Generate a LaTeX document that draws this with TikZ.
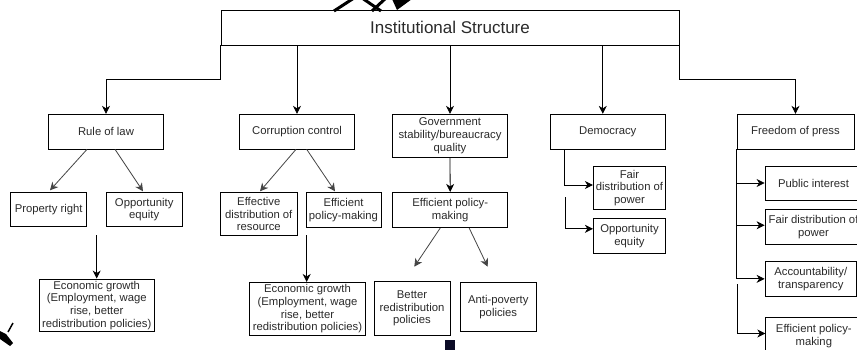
\documentclass[tikz,border=0pt]{standalone}
\usepackage{fontspec}
\setmainfont{Liberation Sans}
\usetikzlibrary{arrows.meta,calc}
\definecolor{txt}{HTML}{2A2A2A}
\definecolor{diag}{HTML}{454545}
\definecolor{navy}{HTML}{0B0B26}
\tikzset{
  box/.style={draw=black, line width=0.8pt, rectangle, inner sep=0pt, align=center,
    text=txt, font=\fontsize{11.3}{12.8}\selectfont},
  titlebox/.style={box, font=\fontsize{17}{20}\selectfont},
  arr/.style={draw=black, line width=0.8pt, -{Stealth[length=8pt,width=8pt,inset=2.5pt]}},
  darr/.style={draw=diag, line width=0.8pt, -{Stealth[length=8pt,width=8pt,inset=2.5pt]}},
  plain/.style={draw=black, line width=0.8pt}
}
\begin{document}
\begin{tikzpicture}[x=1pt,y=-1pt]
\useasboundingbox (0,0) rectangle (857,350);
\fill[white] (0,0) rectangle (857,350);

% title
\node[titlebox, minimum width=458pt, minimum height=35pt] (title) at (450,27.5) {Institutional Structure};

% level 1
\node[box, minimum width=114.6pt, minimum height=34.7pt] (rule) at (106,131.6) {Rule of law};
\node[box, minimum width=114.6pt, minimum height=34.7pt] (corr) at (297,131.6) {Corruption control};
\node[box, minimum width=115.4pt, minimum height=42.7pt] (gov) at (450,135.6) {Government\\stability/bureaucracy\\quality};
\node[box, minimum width=115pt, minimum height=34.7pt] (dem) at (607.8,131.6) {Democracy};
\node[box, minimum width=117pt, minimum height=34.7pt] (press) at (795.5,131.6) {Freedom of press};

% rule of law children
\node[box, minimum width=76pt, minimum height=34.4pt] (prop) at (48.7,209.5) {Property right};
\node[box, minimum width=76.3pt, minimum height=34.4pt] (opp1) at (144.2,209.5) {Opportunity\\equity};
\node[box, minimum width=114.7pt, minimum height=52.7pt] (eco1) at (96.7,305.3) {Economic growth\\(Employment, wage\\rise, better\\redistribution policies)};

% corruption children
\node[box, minimum width=77.7pt, minimum height=43.4pt] (effdist) at (258.8,214) {Effective\\distribution of\\resource};
\node[box, minimum width=75pt, minimum height=35pt] (effpol1) at (343.5,209.8) {Efficient\\policy-making};
\node[box, minimum width=116.4pt, minimum height=52.7pt] (eco2) at (307.5,308.7) {Economic growth\\(Employment, wage\\rise, better\\redistribution policies)};

% government children
\node[box, minimum width=115pt, minimum height=35.4pt] (effpol2) at (450.2,210) {Efficient policy-\\making};
\node[box, minimum width=76pt, minimum height=53.3pt] (better) at (412,308.3) {Better\\redistribution\\policies};
\node[box, minimum width=76.7pt, minimum height=48.7pt] (anti) at (498.3,306.7) {Anti-poverty\\policies};

% democracy children
\node[box, minimum width=72.4pt, minimum height=43pt] (fair1) at (629.5,188) {Fair\\distribution of\\power};
\node[box, minimum width=72.4pt, minimum height=35pt] (opp2) at (629.5,235.8) {Opportunity\\equity};

% freedom of press children
\node[box, minimum width=97pt, minimum height=34pt] (pub) at (813.5,183) {Public interest};
\node[box, minimum width=97pt, minimum height=35pt] (fair2) at (813.5,226.8) {Fair distribution of\\power};
\node[box, minimum width=91.5pt, minimum height=34.3pt] (acc) at (810.75,278.85) {Accountability/\\transparency};
\node[box, minimum width=96.3pt, minimum height=38pt] (effpol3) at (813.85,336) {Efficient policy-\\making};

% title connectors
\draw[arr] (title.south west) -- ++(0,34) -| (rule.north);
\draw[arr] (corr.north |- title.south) -- (corr.north);
\draw[arr] (gov.north |- title.south) -- (gov.north);
\draw[arr] ([xshift=-5pt]dem.north |- title.south) -- ([xshift=-5pt]dem.north);
\draw[arr] (title.south east) -- ++(0,34) -| (press.north);

% rule of law
\draw[darr] ([xshift=-19pt]rule.south) -- ([xshift=1.3pt,yshift=1.6pt]prop.north);
\draw[darr] ([xshift=9pt]rule.south) -- ([xshift=-1.2pt,yshift=0.6pt]opp1.north);
\coordinate (e1s) at (96.7,235);
\draw[arr] (e1s) -- (eco1.north);

% corruption
\draw[darr] ([xshift=-1pt]corr.south) -- ([xshift=1.2pt,yshift=0.6pt]effdist.north);
\draw[darr] ([xshift=9.7pt]corr.south) -- ([xshift=-8.5pt,yshift=0.6pt]effpol1.north);
\coordinate (e2s) at (306.7,235);
\draw[arr] (e2s) -- ([xshift=-0.8pt]eco2.north);

% government
\draw[arr] (gov.south) -- (effpol2.north);
\coordinate (bt) at (414.3,266.7);
\coordinate (at) at (487.7,266.7);
\draw[darr] ([xshift=-10pt]effpol2.south) -- (bt);
\draw[darr] ([xshift=19pt]effpol2.south) -- (at);

% democracy
\draw[arr] ([xshift=14.7pt]dem.south west) |- ([yshift=3pt]fair1.west);
\coordinate (d2) at (565,197);
\draw[arr] (d2) |- ([yshift=7pt]opp2.west);

% freedom of press
\draw[arr] (press.south west) |- (pub.west);
\draw[arr] (press.south west) |- ([yshift=1.5pt]fair2.west);
\draw[arr] (press.south west) |- (acc.west);
\coordinate (p2) at (737,284);
\draw[arr] (p2) |- ([yshift=2.5pt]effpol3.west);

% scan artifacts
\draw[black, line width=3pt] (334,11) -- (354,-2);
\draw[black, line width=3pt] (362,-2) -- (381,11);
\draw[black, line width=3pt] (372,11) -- (386,-2);
\fill[black] (392,-1) -- (412,-1) -- (397,10) -- cycle;
\draw[black, line width=1.5pt] (13,323) -- (8,332);
\fill[black] (0,331) -- (6,334) -- (13,343) -- (10,346) -- (0,339) -- cycle;
\fill[navy] (445,340) rectangle (455,350);
\end{tikzpicture}
\end{document}
